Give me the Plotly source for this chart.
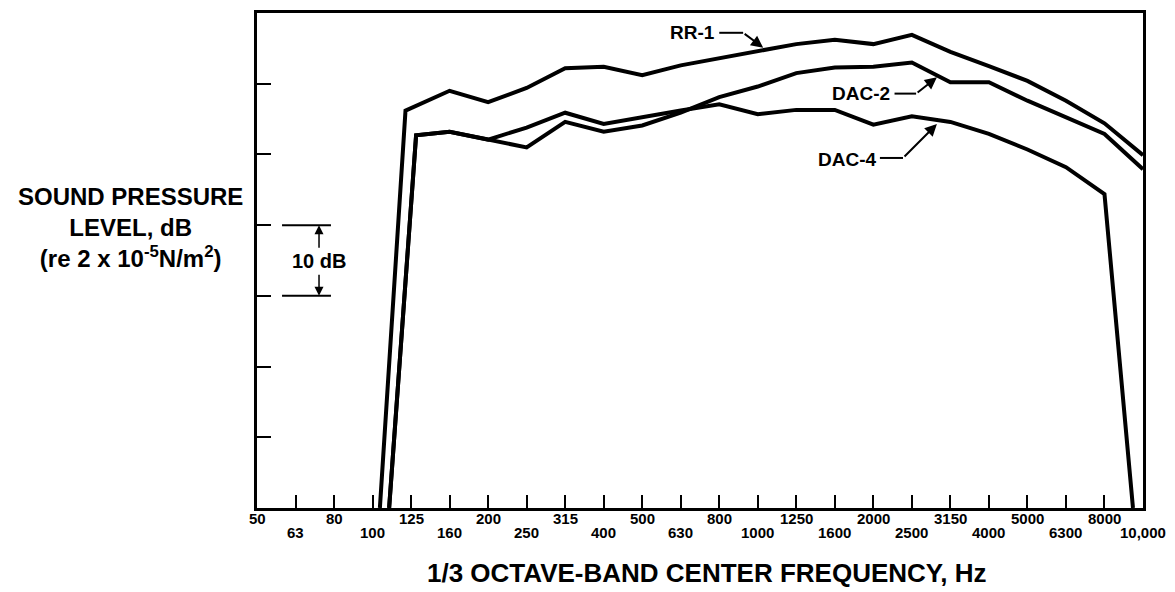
import plotly.graph_objects as go

# ---------------- data ----------------
bands = ["50", "63", "80", "100", "125", "160", "200", "250", "315", "400", "500", "630",
         "800", "1000", "1250", "1600", "2000", "2500", "3150", "4000", "5000", "6300",
         "8000", "10,000"]
band_pos = list(range(len(bands)))

# position along the 1/3-octave axis (band index) and level in dB above axis bottom
rr1_x = [3.19, 3.855, 5, 6, 7, 8, 9, 10, 11, 12, 13, 14, 15, 16, 17, 18, 19, 20, 21, 22, 23]
rr1_y = [0, 56.2, 59.0, 57.4, 59.4, 62.2, 62.4, 61.2, 62.6, 63.6, 64.7, 65.6, 66.2, 65.6,
         66.9, 64.5, 62.5, 60.4, 57.6, 54.4, 49.9]

dac2_x = [3.43, 4.13, 5, 6, 7, 8, 9, 10, 11, 12, 13, 14, 15, 16, 17, 18, 19, 20, 21, 22, 23]
dac2_y = [0, 52.7, 53.2, 52.1, 51.0, 54.6, 53.2, 54.1, 55.9, 58.1, 59.6, 61.5, 62.3, 62.4,
          63.0, 60.2, 60.2, 57.6, 55.2, 52.9, 47.9]

dac4_x = [3.43, 4.13, 5, 6, 7, 8, 9, 10, 11, 12, 13, 14, 15, 16, 17, 18, 19, 20, 21, 22, 22.74]
dac4_y = [0, 52.7, 53.2, 52.1, 53.8, 55.9, 54.3, 55.3, 56.2, 57.1, 55.7, 56.3, 56.3, 54.2,
          55.4, 54.6, 52.9, 50.7, 48.2, 44.4, 0]

y_ticks = [10, 20, 30, 40, 50, 60]
bracket_top, bracket_bottom = 40, 30

FONT = "Liberation Sans"
BLACK = "#000000"

fig = go.Figure()
for xs, ys, name in [(rr1_x, rr1_y, "RR-1"), (dac2_x, dac2_y, "DAC-2"), (dac4_x, dac4_y, "DAC-4")]:
    fig.add_trace(go.Scatter(x=xs, y=ys, mode="lines", name=name,
                             line=dict(color=BLACK, width=4), showlegend=False,
                             hoverinfo="skip"))

annotations = []
# tick labels in two staggered rows
for i, lab in enumerate(bands):
    annotations.append(dict(x=i, y=0, xref="x", yref="paper", text=lab, showarrow=False,
                            xanchor="center", yanchor="middle",
                            yshift=-10 if i % 2 == 0 else -24,
                            font=dict(family=FONT, size=15, color=BLACK, weight="bold")))

# axis titles
annotations.append(dict(x=(707 - 257) / 886, y=0, xref="paper", yref="paper", yshift=-65,
                        text="1/3 OCTAVE-BAND CENTER FREQUENCY, Hz", showarrow=False,
                        xanchor="center", yanchor="middle",
                        font=dict(family=FONT, size=26, color=BLACK, weight="bold")))
annotations.append(dict(x=(130 - 257) / 886, y=(508 - 226) / 498, xref="paper", yref="paper",
                        text="SOUND PRESSURE<br>LEVEL, dB<br>(re 2 x 10<sup>-5</sup>N/m<sup>2</sup>)",
                        showarrow=False, xanchor="center", yanchor="middle", align="center",
                        font=dict(family=FONT, size=24, color=BLACK, weight="bold")))

# series labels
label_font = dict(family=FONT, size=19, color=BLACK, weight="bold")
annotations += [
    dict(x=11.93, y=67.2, text="RR-1", showarrow=False, xanchor="right", yanchor="middle", font=label_font),
    dict(x=16.49, y=58.6, text="DAC-2", showarrow=False, xanchor="right", yanchor="middle", font=label_font),
    dict(x=16.13, y=49.3, text="DAC-4", showarrow=False, xanchor="right", yanchor="middle", font=label_font),
]
# leader arrows
for (hx, hy, tx, ty) in [(13.14, 65.1, 12.62, 67.2), (17.65, 60.9, 17.11, 58.6), (17.65, 54.3, 16.77, 49.5)]:
    annotations.append(dict(x=hx, y=hy, ax=tx, ay=ty, xref="x", yref="y", axref="x", ayref="y",
                            text="", showarrow=True, arrowhead=2, arrowsize=1.2, arrowwidth=2,
                            arrowcolor=BLACK, standoff=0))

# 10 dB scale marker
annotations.append(dict(x=1.61, y=(bracket_top + bracket_bottom) / 2 - 0.1, text="10 dB", showarrow=False,
                        xanchor="center", yanchor="middle",
                        font=dict(family=FONT, size=20, color=BLACK, weight="bold")))
annotations.append(dict(x=1.61, y=bracket_top, ax=1.61, ay=36.6, xref="x", yref="y", axref="x", ayref="y",
                        text="", showarrow=True, arrowhead=2, arrowsize=1.2, arrowwidth=1.5,
                        arrowcolor=BLACK, standoff=0))
annotations.append(dict(x=1.61, y=bracket_bottom, ax=1.61, ay=33.2, xref="x", yref="y", axref="x", ayref="y",
                        text="", showarrow=True, arrowhead=2, arrowsize=1.2, arrowwidth=1.5,
                        arrowcolor=BLACK, standoff=0))

shapes = [
    dict(type="line", x0=0.65, x1=1.92, y0=bracket_top, y1=bracket_top, xref="x", yref="y",
         line=dict(color=BLACK, width=2)),
    dict(type="line", x0=0.65, x1=1.92, y0=bracket_bottom, y1=bracket_bottom, xref="x", yref="y",
         line=dict(color=BLACK, width=2)),
    dict(type="line", x0=12.0, x1=12.62, y0=67.2, y1=67.2, xref="x", yref="y",
         line=dict(color=BLACK, width=2)),
    dict(type="line", x0=16.55, x1=17.11, y0=58.6, y1=58.6, xref="x", yref="y",
         line=dict(color=BLACK, width=2)),
    dict(type="line", x0=16.17, x1=16.77, y0=49.5, y1=49.5, xref="x", yref="y",
         line=dict(color=BLACK, width=2)),
]

fig.update_layout(
    width=1175, height=592,
    margin=dict(l=257, r=32, t=10, b=84),
    paper_bgcolor="white", plot_bgcolor="white",
    annotations=annotations, shapes=shapes,
    xaxis=dict(range=[0, 23], tickvals=band_pos, ticks="inside", ticklen=13, tickwidth=2,
               tickcolor=BLACK, showticklabels=False, showline=True, linewidth=3,
               linecolor=BLACK, mirror=True, showgrid=False, zeroline=False, fixedrange=True),
    yaxis=dict(range=[0, 70], tickvals=y_ticks, ticks="inside", ticklen=14, tickwidth=2,
               tickcolor=BLACK, showticklabels=False, showline=True, linewidth=3,
               linecolor=BLACK, mirror=True, showgrid=False, zeroline=False, fixedrange=True),
)

fig.write_html("out.html")
